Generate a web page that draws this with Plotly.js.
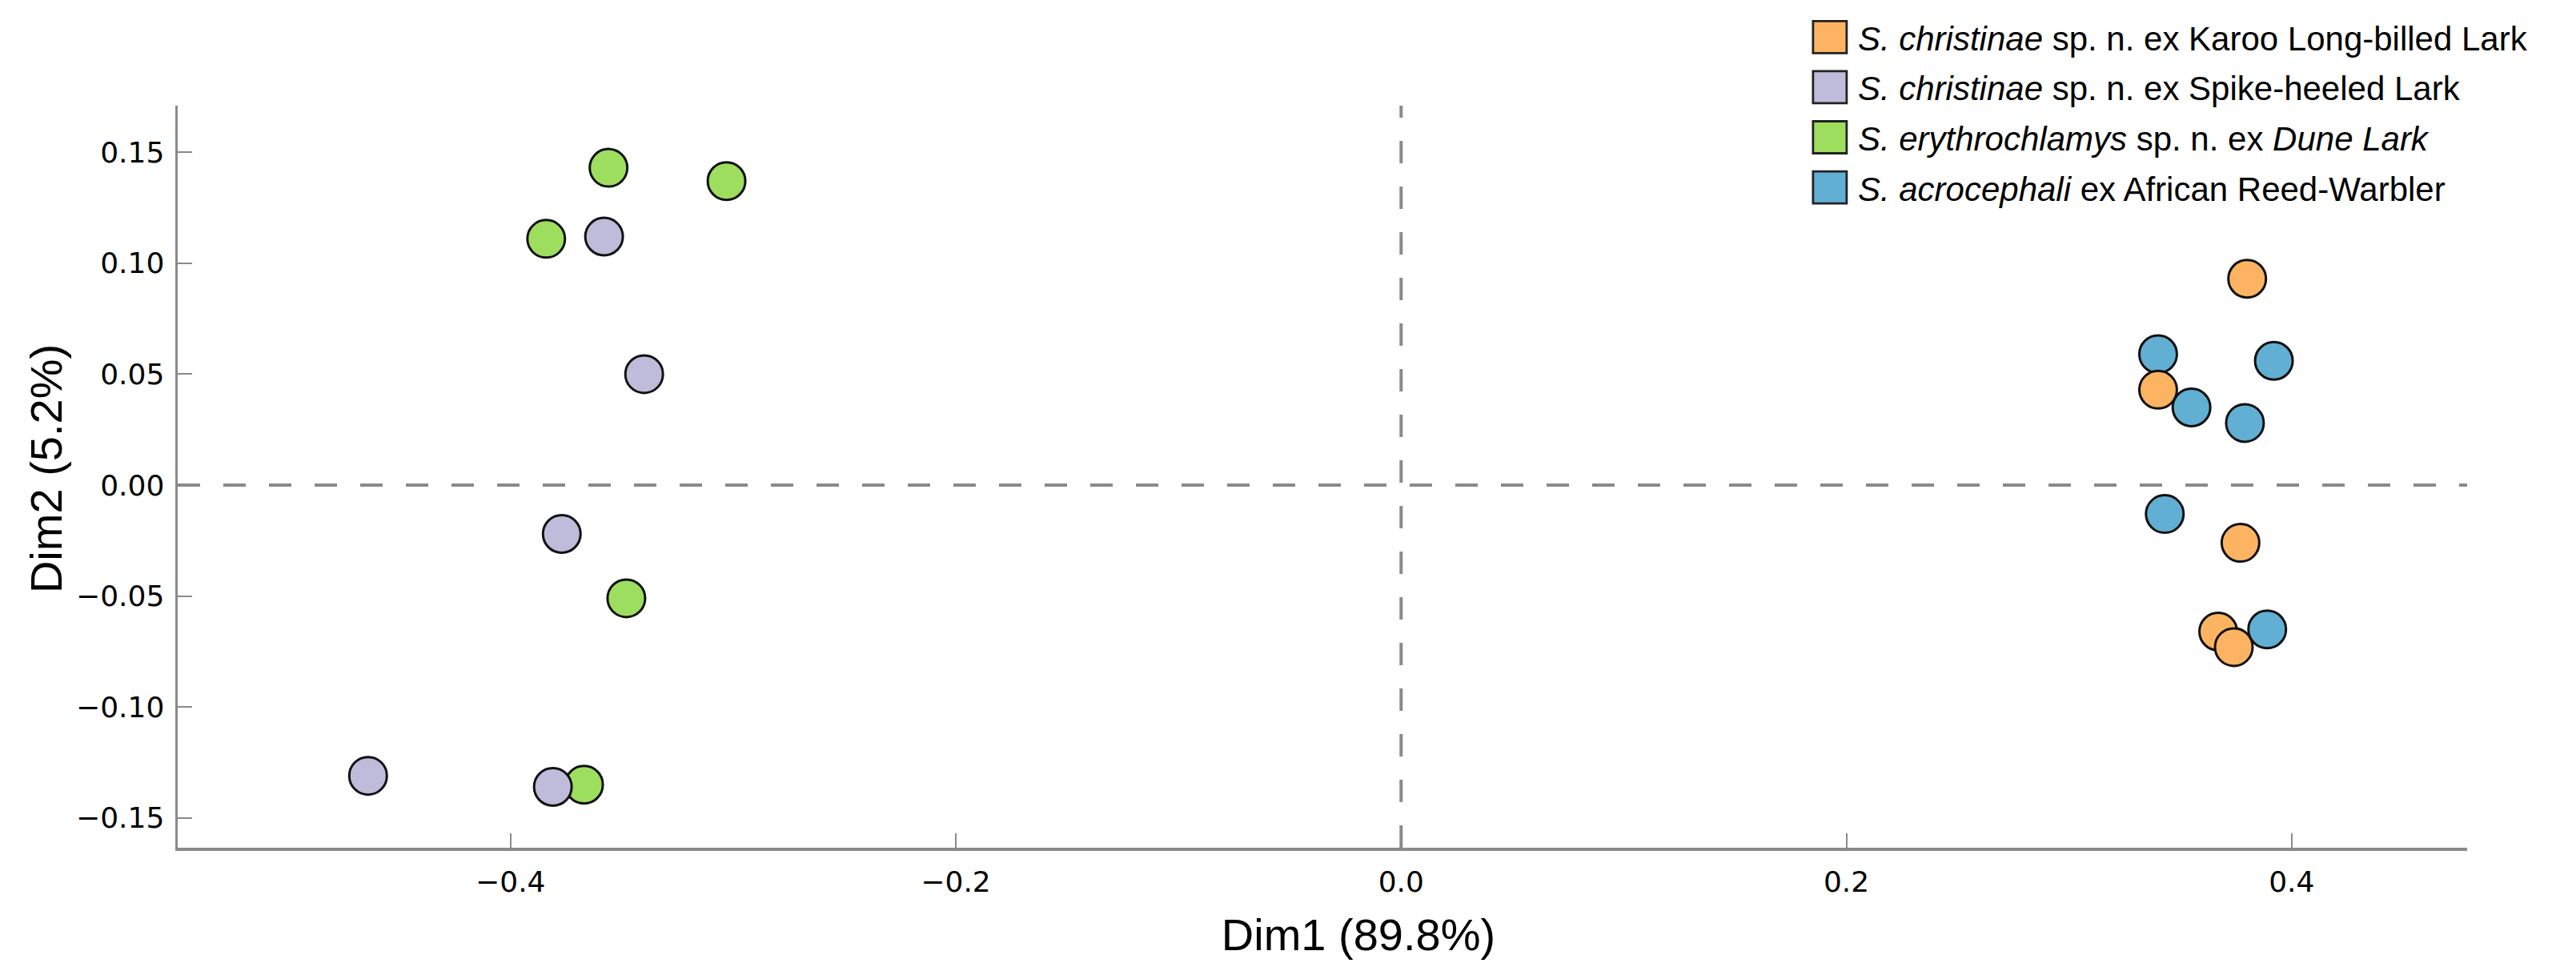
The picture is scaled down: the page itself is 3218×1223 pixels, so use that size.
<!DOCTYPE html>
<html>
<head>
<meta charset="utf-8">
<script src="https://cdn.plot.ly/plotly-3.0.1.min.js"></script>
<style>
  html, body { margin: 0; padding: 0; background: #ffffff; }
  #chart { width: 3218px; height: 1223px; }
</style>
</head>
<body>
<div id="chart"></div>
<script>
// ---- Data ----
const seriesNames = [
  "<i>S. acrocephali</i> ex African Reed-Warbler",
  "<i>S. erythrochlamys</i> sp. n. ex <i>Dune Lark</i>",
  "<i>S. christinae</i> sp. n. ex Spike-heeled Lark",
  "<i>S. christinae</i> sp. n. ex Karoo Long-billed Lark"
];
const seriesColors = ["#62AFD4", "#9EDE5E", "#BFBBDB", "#FDB462"];
const legendRanks = [4, 3, 2, 1];

const reedWarblerX = [0.340, 0.392, 0.355, 0.379, 0.343, 0.389];
const reedWarblerY = [0.059, 0.056, 0.035, 0.028, -0.013, -0.065];

const duneLarkX = [-0.356, -0.303, -0.384, -0.348, -0.367];
const duneLarkY = [0.143, 0.137, 0.111, -0.051, -0.135];

const spikeHeeledX = [-0.358, -0.340, -0.377, -0.464, -0.381];
const spikeHeeledY = [0.112, 0.050, -0.022, -0.131, -0.136];

const karooX = [0.380, 0.340, 0.377, 0.367, 0.374];
const karooY = [0.093, 0.043, -0.026, -0.066, -0.073];

const xTitle = "Dim1 (89.8%)";
const yTitle = "Dim2 (5.2%)";

// ---- Traces ----
const xs = [reedWarblerX, duneLarkX, spikeHeeledX, karooX];
const ys = [reedWarblerY, duneLarkY, spikeHeeledY, karooY];

const data = xs.map((xv, i) => ({
  type: "scatter",
  mode: "markers",
  x: xv,
  y: ys[i],
  name: seriesNames[i],
  legendgroup: "g" + i,
  legendrank: legendRanks[i],
  marker: {
    size: 47,
    color: seriesColors[i],
    line: { color: "#111111", width: 3 }
  },
  hoverinfo: "skip"
}));

const axisGray = "#8a8a8a";

const layout = {
  width: 3218,
  height: 1223,
  paper_bgcolor: "#ffffff",
  plot_bgcolor: "#ffffff",
  margin: { l: 222, r: 136, t: 128, b: 164 },
  showlegend: true,
  legend: {
    x: 0.7094, xanchor: "left",
    y: 1.1289, yanchor: "top",
    traceorder: "grouped",
    tracegroupgap: 5,
    itemwidth: 60,
    bgcolor: "rgba(0,0,0,0)",
    font: { family: "Liberation Sans, Arial, sans-serif", size: 42, color: "#000000" }
  },
  xaxis: {
    range: [-0.5495, 0.4788],
    showgrid: false, zeroline: false,
    showline: true, linecolor: axisGray, linewidth: 3.5,
    ticks: "inside", ticklen: 18, tickwidth: 2, tickcolor: axisGray,
    tick0: 0, dtick: 0.2, tickformat: ".1f",
    ticklabelstandoff: 8,
    tickfont: { family: "DejaVu Sans, sans-serif", size: 36, color: "#000000" },
    title: {
      text: xTitle,
      standoff: 28,
      font: { family: "Liberation Sans, Arial, sans-serif", size: 56, color: "#000000" }
    }
  },
  yaxis: {
    range: [-0.1634, 0.1710],
    showgrid: false, zeroline: false,
    showline: true, linecolor: axisGray, linewidth: 3.5,
    ticks: "inside", ticklen: 18, tickwidth: 2, tickcolor: axisGray,
    tick0: 0, dtick: 0.05, tickformat: ".2f",
    ticklabelstandoff: 6,
    tickfont: { family: "DejaVu Sans, sans-serif", size: 36, color: "#000000" },
    title: {
      text: yTitle,
      standoff: 14,
      font: { family: "Liberation Sans, Arial, sans-serif", size: 56, color: "#000000" }
    }
  },
  shapes: [
    { type: "line", xref: "paper", yref: "y", x0: 0, x1: 1, y0: 0, y1: 0,
      line: { color: axisGray, width: 4, dash: "28px,29px" }, layer: "below" },
    { type: "line", xref: "x", yref: "paper", x0: 0, x1: 0, y0: 0, y1: 1,
      line: { color: axisGray, width: 4, dash: "28px,29px" }, layer: "below" }
  ]
};

Plotly.newPlot("chart", data, layout, { staticPlot: true, displayModeBar: false }).then(gd => {
  // Legend keys drawn as large bordered squares, as in the reference
  gd.querySelectorAll(".legend .traces .legendpoints path").forEach(p => {
    p.setAttribute("d", "M21,20H-21V-20H21Z");
    p.setAttribute("transform", "translate(35,0)");
    p.style.strokeWidth = "2.8px";
    p.style.stroke = "#222222";
  });
  // Nudge axis titles to the reference placement
  const xt = gd.querySelector(".g-xtitle");
  if (xt) xt.setAttribute("transform", "translate(45,0)");
  const yt = gd.querySelector(".g-ytitle");
  if (yt) yt.setAttribute("transform", "translate(14,-10)");
});
</script>
</body>
</html>
